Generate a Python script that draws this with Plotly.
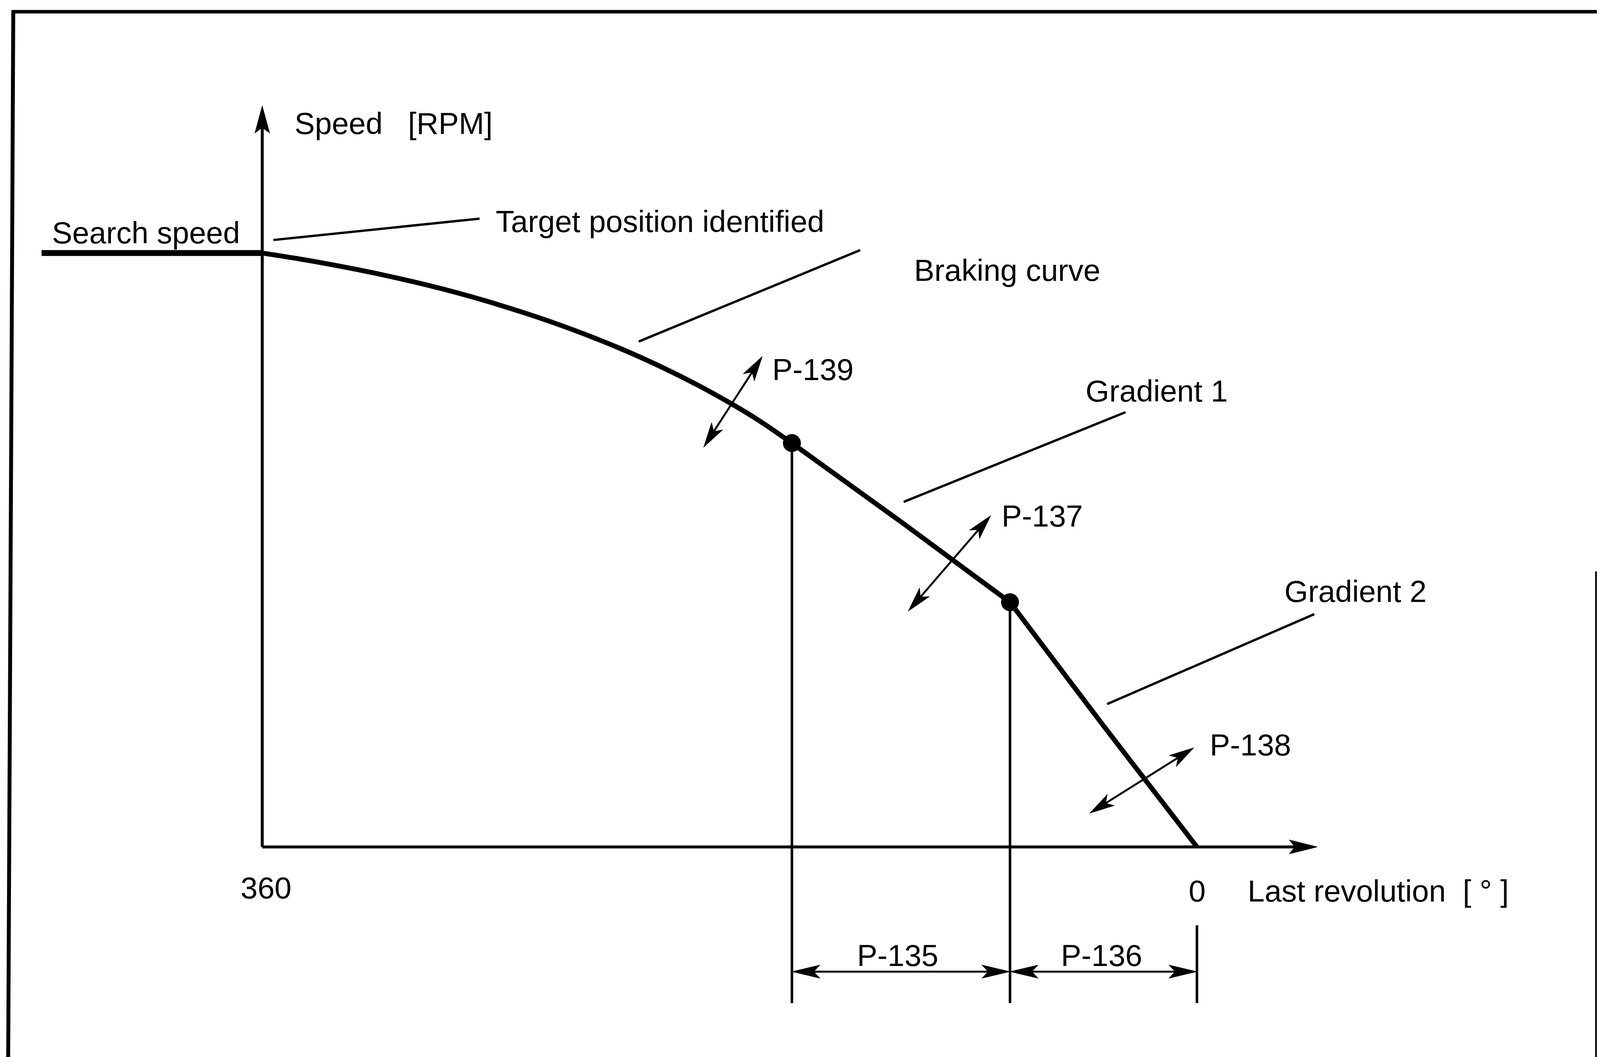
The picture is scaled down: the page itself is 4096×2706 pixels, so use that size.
import math
import plotly.graph_objects as go

# ---------------- data (degrees of last revolution, speed in % of search speed) ----------------
search_deg = [445, 360]
search_speed = [100, 100]

brake_deg = [360, 342.3, 313.2, 285.5, 259.3, 240.3, 221.4, 206.8, 192.3, 179.2, 169.0, 156]
brake_speed = [100, 98.76, 96.29, 93.38, 89.97, 87.08, 83.80, 80.93, 77.77, 74.60, 71.89, 68.0]

grad1_deg = [156, 114, 72]
grad1_speed = [68.0, 54.75, 41.2]

grad2_deg = [72, 36, 0]
grad2_speed = [41.2, 20.4, 0]

switch_deg = [156, 72]          # P-135 / P-136 boundaries
switch_speed = [68.0, 41.2]

x_tick_vals = [360, 0]
x_tick_text = ["360", "0"]

# ---------------- geometry of the drawing ----------------
WIN_W, WIN_H = 4096, 2706
OFF = 8                                   # default page (body) margin
W, H = WIN_W - OFF, WIN_H - OFF
S = WIN_W / 1568.0
X360, X0 = 257 * S - OFF, 1173 * S - OFF
Y0, Y100 = 830 * S - OFF, 248 * S - OFF
pxdeg = (X0 - X360) / 360.0
pxsp = (Y0 - Y100) / 100.0
x_range = [360 + X360 / pxdeg, -(W - X0) / pxdeg]
y_range = [-(H - Y0) / pxsp, 100 + Y100 / pxsp]


def to_px(d, s):
    return X0 - d * pxdeg, Y0 - s * pxsp


def to_data(x, y):
    return (X0 - x) / pxdeg, (Y0 - y) / pxsp


fig = go.Figure()
BLACK = "#000000"


def line(xs, ys, width, shape="linear"):
    fig.add_trace(go.Scatter(x=xs, y=ys, mode="lines",
                             line=dict(color=BLACK, width=width, shape=shape, smoothing=1.0),
                             hoverinfo="skip", showlegend=False))


def head(tx, ty, ux, uy, L, Wd, N):
    nx, ny = -uy, ux
    bx, by = tx - ux * L, ty - uy * L
    pts = [(tx, ty), (bx + nx * Wd, by + ny * Wd), (tx - ux * (L - N), ty - uy * (L - N)),
           (bx - nx * Wd, by - ny * Wd), (tx, ty)]
    dpts = [to_data(px, py) for px, py in pts]
    fig.add_trace(go.Scatter(x=[p[0] for p in dpts], y=[p[1] for p in dpts], mode="lines",
                             fill="toself", fillcolor=BLACK, line=dict(color=BLACK, width=1),
                             hoverinfo="skip", showlegend=False))


def arrow(p_from, p_to, width, L, Wd, N, both=False):
    ax, ay = to_px(*p_from)
    bx, by = to_px(*p_to)
    dx, dy = bx - ax, by - ay
    d = math.hypot(dx, dy)
    ux, uy = dx / d, dy / d
    sx, sy = (ax + ux * (L - N), ay + uy * (L - N)) if both else (ax, ay)
    ex, ey = bx - ux * (L - N), by - uy * (L - N)
    s0 = to_data(sx, sy)
    s1 = to_data(ex, ey)
    line([s0[0], s1[0]], [s0[1], s1[1]], width)
    head(bx, by, ux, uy, L, Wd, N)
    if both:
        head(ax, ay, -ux, -uy, L, Wd, N)


# axes with arrows
arrow((360, 0), (360, 124.8), 7.5, 70, 19, 14)
arrow((360, 0), (-46.4, 0), 7.5, 72, 18, 14)

# speed profile
line(search_deg, search_speed, 15)
line(brake_deg, brake_speed, 12.5, shape="spline")
line(grad1_deg, grad1_speed, 12.5)
line(grad2_deg, grad2_speed, 12.5)
fig.add_trace(go.Scatter(x=switch_deg, y=switch_speed, mode="markers",
                         marker=dict(color=BLACK, size=46, symbol="circle"),
                         hoverinfo="skip", showlegend=False))

# drop lines to dimension area
line([switch_deg[0], switch_deg[0]], [switch_speed[0], -26.3], 6.5)
line([switch_deg[1], switch_deg[1]], [switch_speed[1], -26.3], 6.5)
line([0, 0], [-13.2, -26.3], 6.5)

# dimension arrows
arrow((switch_deg[0], -21.0), (switch_deg[1], -21.0), 5, 72, 17, 16, both=True)
arrow((switch_deg[1], -21.0), (0, -21.0), 5, 72, 17, 16, both=True)

# parameter double arrows
arrow((190.0, 67.3), (167.4, 82.6), 5, 64, 17, 16, both=True)
arrow((111.2, 39.7), (79.4, 55.8), 5, 64, 17, 16, both=True)
arrow((41.3, 5.67), (1.18, 16.7), 5, 64, 17, 16, both=True)

# leader lines
line([355.7, 276.3], [102.2, 105.8], 6)
line([215.0, 129.7], [85.1, 100.5], 6)
line([112.95, 27.5], [58.1, 73.2], 6)
line([34.6, -45.2], [24.05, 39.2], 6)

# ---------------- texts ----------------
FONT = dict(family="Liberation Sans, Arial, Helvetica, sans-serif", size=78, color=BLACK)
NB = "\u00a0"
labels = [
    ("Speed" + NB * 3 + "[RPM]", 347.8, 121.8, "left"),
    ("Search speed", 441.3, 103.4, "left"),
    ("Target position identified", 270.4, 105.3, "left"),
    ("Braking curve", 109.3, 97.1, "left"),
    ("P-139", 163.9, 80.4, "left"),
    ("Gradient 1", 43.2, 76.8, "left"),
    ("P-137", 75.5, 55.7, "left"),
    ("Gradient 2", -33.4, 43.0, "left"),
    ("P-138", -4.7, 17.2, "left"),
    (x_tick_text[0], x_tick_vals[0] - 1.5, -6.9, "center"),
    (x_tick_text[1], x_tick_vals[1], -7.4, "center"),
    ("Last revolution" + NB * 2 + "[" + NB + "°" + NB + "]", -19.3, -7.4, "left"),
    ("P-135", 115.3, -18.3, "center"),
    ("P-136", 36.7, -18.3, "center"),
]
for txt, x, y, xa in labels:
    fig.add_annotation(x=x, y=y, text=txt, showarrow=False, xanchor=xa, yanchor="middle",
                       font=FONT, xref="x", yref="y")


# ---------------- frame (page pixel positions -> paper) ----------------
def pxp(x):
    return (x - OFF) / W


def pyp(y):
    return 1 - (y - OFF) / H


fig.add_shape(type="line", xref="paper", yref="paper", x0=pxp(30), x1=pxp(WIN_W + 10),
              y0=pyp(30), y1=pyp(30), line=dict(color=BLACK, width=9))
fig.add_shape(type="line", xref="paper", yref="paper", x0=pxp(34), x1=pxp(21),
              y0=pyp(26), y1=pyp(WIN_H), line=dict(color=BLACK, width=10))
fig.add_shape(type="line", xref="paper", yref="paper", x0=pxp(4086), x1=pxp(4086),
              y0=pyp(1463), y1=pyp(WIN_H), line=dict(color=BLACK, width=5))

fig.update_layout(
    width=W, height=H, margin=dict(l=0, r=0, t=0, b=0),
    paper_bgcolor="white", plot_bgcolor="white", showlegend=False,
    xaxis=dict(range=x_range, visible=False, showgrid=False, zeroline=False, fixedrange=True),
    yaxis=dict(range=y_range, visible=False, showgrid=False, zeroline=False, fixedrange=True),
)

fig.write_html("out.html")
